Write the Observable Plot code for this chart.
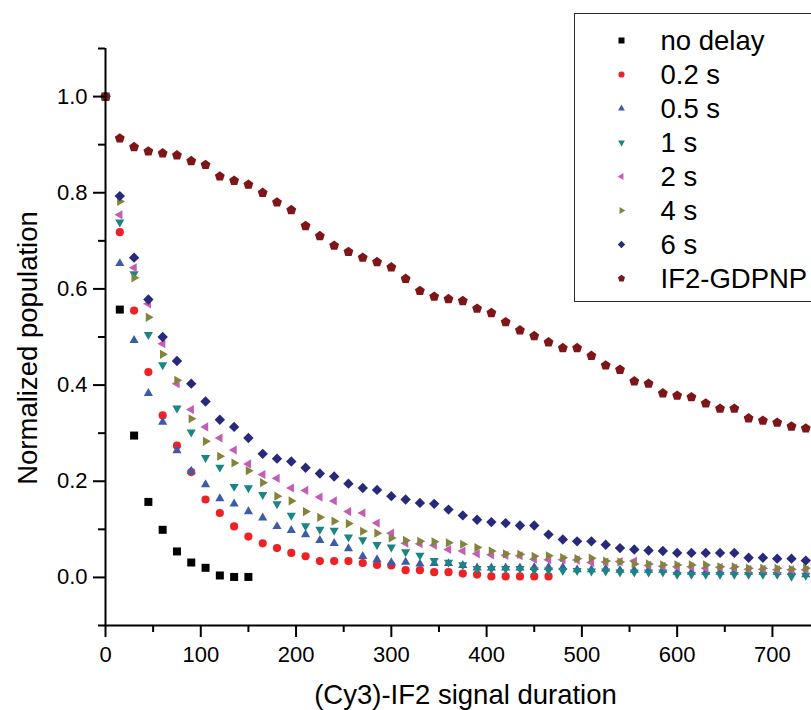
<!DOCTYPE html>
<html>
<head>
<meta charset="utf-8">
<script src="https://cdn.jsdelivr.net/npm/d3@7"></script>
<script src="https://cdn.jsdelivr.net/npm/@observablehq/plot@0.6"></script>
<style>
html, body { margin: 0; padding: 0; background: #fff; overflow: hidden; }
#wrap { position: relative; width: 811px; height: 710px; overflow: hidden; font-family: "Liberation Sans", Arial, sans-serif; }
#legend { position: absolute; left: 574px; top: 13px; width: 250px; height: 289px; border: 1.5px solid #2a2a2a; background: #fff; box-sizing: border-box; }
#legend svg { display: block; }
</style>
</head>
<body>
<div id="wrap"></div>
<script>
// ---- data ----
const durations = [0,15,30,45,60,75,90,105,120,135,150,165,180,195,210,225,240,255,270,285,300,315,330,345,360,375,390,405,420,435,450,465,480,495,510,525,540,555,570,585,600,615,630,645,660,675,690,705,720,735];

const noDelay = [1.0,0.557,0.295,0.157,0.099,0.054,0.031,0.020,0.004,0.001,0.001];

const delay02 = [1.0,0.718,0.555,0.427,0.337,0.274,0.219,0.162,0.134,0.106,
  0.085,0.071,0.061,0.051,0.044,0.034,0.034,0.034,0.030,0.026,
  0.025,0.015,0.015,0.011,0.011,0.008,0.006,0.002,0.002,0.002,
  0.002,0.002];

const delay05 = [1.0,0.653,0.493,0.383,0.323,0.264,0.221,0.193,0.164,0.153,
  0.137,0.124,0.106,0.098,0.089,0.077,0.071,0.060,0.044,0.037,
  0.031,0.032,0.028,0.029,0.029,0.025,0.020,0.020,0.020,0.020,
  0.021,0.021,0.021,0.016,0.016,0.018,0.015,0.015,0.015,0.015,
  0.011,0.011,0.011,0.011,0.011,0.011,0.011,0.011,0.011,0.006];

const delay1 = [1.0,0.739,0.631,0.505,0.442,0.352,0.302,0.249,0.229,0.189,
  0.186,0.172,0.153,0.129,0.107,0.100,0.098,0.084,0.078,0.068,
  0.063,0.053,0.046,0.035,0.031,0.026,0.018,0.018,0.018,0.018,
  0.015,0.015,0.014,0.014,0.013,0.013,0.011,0.011,0.011,0.011,
  0.006,0.006,0.006,0.006,0.006,0.006,0.006,0.006,0.002,0.004];

const delay2 = [1.0,0.754,0.644,0.569,0.486,0.403,0.349,0.313,0.290,0.265,
  0.236,0.214,0.206,0.186,0.181,0.167,0.159,0.137,0.134,0.113,
  0.092,0.071,0.070,0.067,0.058,0.055,0.049,0.047,0.046,0.045,
  0.038,0.037,0.037,0.036,0.031,0.032,0.033,0.034,0.025,0.023,
  0.022,0.022,0.019,0.021,0.019,0.017,0.017,0.016,0.016,0.016];

const delay4 = [1.0,0.782,0.623,0.541,0.464,0.410,0.330,0.283,0.252,0.238,
  0.222,0.197,0.169,0.159,0.137,0.125,0.117,0.112,0.096,0.092,
  0.082,0.077,0.075,0.074,0.072,0.069,0.062,0.055,0.049,0.048,
  0.044,0.045,0.041,0.039,0.040,0.034,0.032,0.028,0.028,0.026,
  0.026,0.026,0.026,0.022,0.022,0.019,0.019,0.019,0.017,0.019];

const delay6 = [1.0,0.793,0.665,0.578,0.500,0.450,0.403,0.366,0.328,0.313,
  0.290,0.257,0.247,0.241,0.228,0.216,0.210,0.195,0.186,0.182,
  0.169,0.162,0.155,0.153,0.141,0.129,0.120,0.115,0.113,0.108,
  0.108,0.089,0.079,0.075,0.075,0.068,0.061,0.058,0.056,0.055,
  0.051,0.051,0.051,0.051,0.051,0.041,0.041,0.039,0.039,0.035];

const gdpnp = [1.0,0.913,0.895,0.886,0.882,0.878,0.866,0.858,0.834,0.825,
  0.817,0.800,0.780,0.764,0.731,0.710,0.690,0.677,0.665,0.656,
  0.645,0.621,0.596,0.584,0.579,0.575,0.559,0.550,0.531,0.514,
  0.502,0.489,0.477,0.477,0.461,0.441,0.432,0.408,0.403,0.383,
  0.378,0.375,0.362,0.351,0.351,0.331,0.326,0.322,0.314,0.310];

const seriesNames = ["no delay","0.2 s","0.5 s","1 s","2 s","4 s","6 s","IF2-GDPNP"];
const seriesValues = [noDelay, delay02, delay05, delay1, delay2, delay4, delay6, gdpnp];
const seriesColors = ["#000000","#ee2226","#3c5bab","#1a8582","#c35eb4","#83843c","#28297a","#7e1518"];

const xMajor = [0,100,200,300,400,500,600,700];
const xMinor = [50,150,250,350,450,550,650];
const yMajor = [0.0,0.2,0.4,0.6,0.8,1.0];
const yMinor = [-0.1,0.1,0.3,0.5,0.7,0.9,1.1];

// ---- custom symbols ----
function polySymbol(pts) {
  return {
    draw(ctx, size) {
      const R = Math.sqrt(size / Math.PI);
      pts.forEach(([px, py], i) => i ? ctx.lineTo(px * R, py * R) : ctx.moveTo(px * R, py * R));
      ctx.closePath();
    }
  };
}
function ngon(n, start) {
  const out = [];
  for (let i = 0; i < n; i++) { const t = start + 2 * Math.PI * i / n; out.push([Math.cos(t), Math.sin(t)]); }
  return out;
}
const SQUARE = polySymbol([[-1,-1],[1,-1],[1,1],[-1,1]]);
const TRI_UP = polySymbol(ngon(3, -Math.PI / 2));
const TRI_DOWN = polySymbol(ngon(3, Math.PI / 2));
const TRI_LEFT = polySymbol(ngon(3, Math.PI));
const TRI_RIGHT = polySymbol(ngon(3, 0));
const DIAMOND = polySymbol([[0,-1],[1,0],[0,1],[-1,0]]);
const PENTAGON = polySymbol(ngon(5, -Math.PI / 2));
const CIRCLE = d3.symbolCircle;

const symbols = [SQUARE, CIRCLE, TRI_UP, TRI_DOWN, TRI_LEFT, TRI_RIGHT, DIAMOND, PENTAGON];
const radii = [4.0, 4.1, 5.3, 5.3, 5.3, 5.3, 5.2, 5.2];

const font = "'Liberation Sans', Arial, Helvetica, sans-serif";

const dotMarks = seriesValues.map((vals, s) =>
  Plot.dot(vals.map((v, i) => ({t: durations[i], v})), {
    x: "t", y: "v", symbol: symbols[s], r: radii[s], fill: seriesColors[s], stroke: "none"
  })
);

const chart = Plot.plot({
  width: 811,
  height: 710,
  marginLeft: 105,
  marginRight: 0,
  marginTop: 48,
  marginBottom: 85,
  x: {domain: [0, 741]},
  y: {domain: [-0.1, 1.1]},
  style: {fontFamily: font, background: "#fff", color: "#000"},
  marks: [
    ...dotMarks,
    Plot.ruleX([0], {stroke: "#000", strokeWidth: 2}),
    Plot.ruleY([-0.1], {stroke: "#000", strokeWidth: 2}),
    Plot.axisY(yMajor, {tickSize: 12, tickPadding: 6, strokeWidth: 2, fontSize: 22, tickFormat: d3.format(".1f"), label: null}),
    Plot.axisY(yMinor, {tickSize: 7, strokeWidth: 2, tickFormat: () => "", label: null}),
    Plot.axisX(xMajor, {tickSize: 12, tickPadding: 9, strokeWidth: 2, fontSize: 22, tickFormat: d3.format("d"), label: null}),
    Plot.axisX(xMinor, {tickSize: 7, strokeWidth: 2, tickFormat: () => "", label: null}),
    Plot.text(["Normalized population"], {frameAnchor: "left", rotate: -90, dx: -77, dy: 11, fontSize: 27.5, textAnchor: "middle", lineAnchor: "middle"}),
    Plot.text(["(Cy3)-IF2 signal duration"], {frameAnchor: "bottom", dx: 7, dy: 78, fontSize: 27.5, textAnchor: "middle", lineAnchor: "bottom"})
  ]
});

const wrap = document.getElementById("wrap");
wrap.appendChild(chart);

// ---- legend ----
const legend = document.createElement("div");
legend.id = "legend";
const ns = "http://www.w3.org/2000/svg";
const lsvg = document.createElementNS(ns, "svg");
lsvg.setAttribute("width", 250);
lsvg.setAttribute("height", 286);
const legendRadii = [3.0, 3.1, 3.9, 3.9, 3.9, 3.9, 3.7, 3.7];
seriesNames.forEach((name, i) => {
  const cy = 26.5 + 34 * i;
  const p = document.createElementNS(ns, "path");
  const r = legendRadii[i];
  p.setAttribute("d", d3.symbol(symbols[i], Math.PI * r * r)());
  p.setAttribute("transform", `translate(46.5,${cy})`);
  p.setAttribute("fill", seriesColors[i]);
  lsvg.appendChild(p);
  const t = document.createElementNS(ns, "text");
  t.setAttribute("x", 85.5);
  t.setAttribute("y", cy + 9.5);
  t.setAttribute("font-size", 27.5);
  t.setAttribute("font-family", font);
  t.setAttribute("fill", "#000");
  t.textContent = name;
  lsvg.appendChild(t);
});
legend.appendChild(lsvg);
wrap.appendChild(legend);
</script>
</body>
</html>
